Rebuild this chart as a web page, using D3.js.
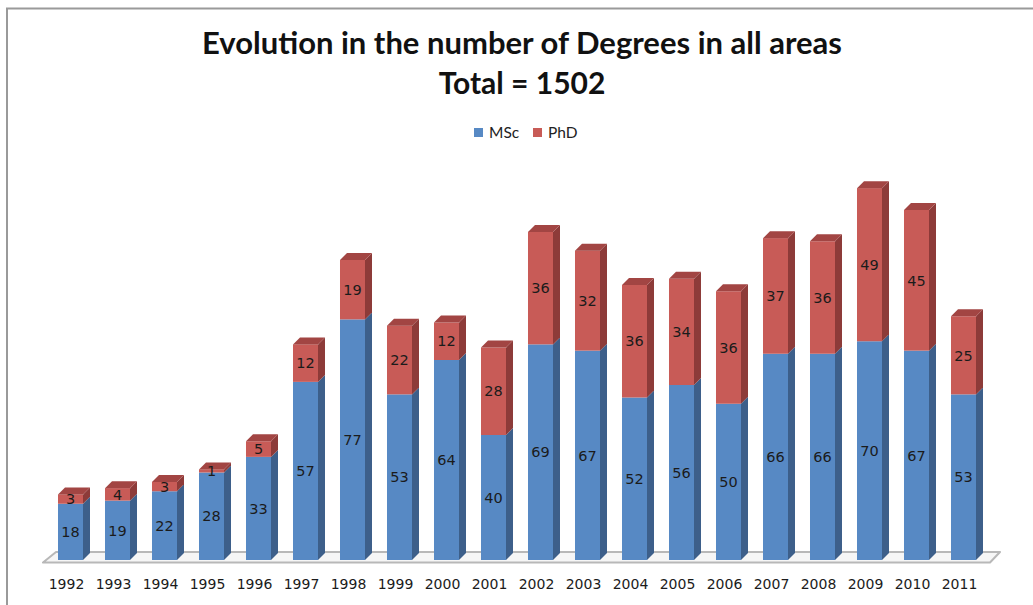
<!DOCTYPE html>
<html>
<head>
<meta charset="utf-8">
<script src="https://cdn.jsdelivr.net/npm/d3@7/dist/d3.min.js"></script>
<style>
  html, body { margin: 0; padding: 0; background: #fff; }
  svg { display: block; }
</style>
</head>
<body>
<svg id="chart" width="1033" height="605"></svg>
<script>
// Degrees awarded per year, split by level
const years = ["1992","1993","1994","1995","1996","1997","1998","1999","2000","2001",
               "2002","2003","2004","2005","2006","2007","2008","2009","2010","2011"];
const msc = [18,19,22,28,33,57,77,53,64,40,69,67,52,56,50,66,66,70,67,53];
const phd = [3,4,3,1,5,12,19,22,12,28,36,32,36,34,36,37,36,49,45,25];
const seriesNames = ["MSc","PhD"];
const titleLines = ["Evolution in the number of Degrees in all areas", "Total = 1502"];

const W = 1033, H = 605;
const svg = d3.select("#chart");

const colors = {
  MSc: { front: "#5789c4", side: "#3d5f8a", top: "#4a74a8" },
  PhD: { front: "#c85b57", side: "#8d3b39", top: "#a24543" }
};

// chart frame
svg.append("path")
  .attr("d", `M7,${H + 5} L7,8.5 L${W + 5},8.5`)
  .attr("fill", "none")
  .attr("stroke", "#9a9a9a")
  .attr("stroke-width", 2);

// scales
const x = d3.scaleBand()
  .domain(years)
  .range([47, 987])
  .paddingInner(0.468)
  .paddingOuter(0.234);

const y = d3.scaleLinear().domain([0, 120]).range([560, 185]);

const depthX = 7, depthY = 7;

// floor
const fl = { l: x.range()[0] - 4, r: x.range()[1] + 3 };
const floorFront = y(0) + 2.5, floorBack = y(0) - 8;
svg.append("path")
  .attr("d", `M${fl.l},${floorFront} L${fl.r},${floorFront} L${fl.r + 10},${floorBack} L${fl.l + 13},${floorBack} Z`)
  .attr("fill", "#f6f6f6")
  .attr("stroke", "#b8b8b8")
  .attr("stroke-width", 2)
  .attr("stroke-linejoin", "round");

// stacked 3D bars
const stackData = years.map((yr, i) => ({ year: yr, MSc: msc[i], PhD: phd[i] }));
const stacked = d3.stack().keys(seriesNames)(stackData);

const bw = x.bandwidth();
const barG = svg.append("g");

years.forEach((yr, i) => {
  const g = barG.append("g");
  const x0 = x(yr), x1 = x0 + bw;
  stacked.forEach((layer, li) => {
    const key = layer.key;
    const [v0, v1] = layer[i];
    const yb = y(v0), yt = y(v1);
    const c = colors[key];
    // side face
    g.append("path")
      .attr("d", `M${x1},${yb} L${x1 + depthX},${yb - depthY} L${x1 + depthX},${yt - depthY} L${x1},${yt} Z`)
      .attr("fill", c.side);
    // front face
    g.append("rect")
      .attr("x", x0).attr("y", yt)
      .attr("width", bw).attr("height", yb - yt)
      .attr("fill", c.front);
    // top face on the uppermost segment
    if (li === stacked.length - 1) {
      g.append("path")
        .attr("d", `M${x0},${yt} L${x0 + depthX},${yt - depthY} L${x1 + depthX},${yt - depthY} L${x1},${yt} Z`)
        .attr("fill", c.top);
    }
    // value label
    g.append("text")
      .attr("x", x0 + bw / 2)
      .attr("y", (yb + yt) / 2)
      .attr("dy", "0.36em")
      .attr("text-anchor", "middle")
      .attr("font-family", "DejaVu Sans, Verdana, sans-serif")
      .attr("font-size", 14.5)
      .attr("fill", "#1b1b1b")
      .text(v1 - v0);
  });
});

// category axis labels
const xAxis = d3.axisBottom(x).tickSize(0).tickPadding(0);
const axG = svg.append("g")
  .attr("transform", `translate(-4, ${y(0) + 19})`)
  .call(xAxis);
axG.select(".domain").remove();
axG.selectAll("text")
  .attr("font-family", "DejaVu Sans, Verdana, sans-serif")
  .attr("font-size", 14)
  .attr("fill", "#1b1b1b");

// title
const title = svg.append("g")
  .attr("font-family", "Lato, Carlito, sans-serif")
  .attr("font-weight", "bold")
  .attr("font-size", 31)
  .attr("fill", "#111")
  .attr("text-anchor", "middle");
title.append("text").attr("x", 522).attr("y", 54).text(titleLines[0]);
title.append("text").attr("x", 522).attr("y", 94).attr("font-size", 30).text(titleLines[1]);

// legend
const legend = svg.append("g")
  .attr("font-family", "Lato, Carlito, sans-serif")
  .attr("font-size", 15.5)
  .attr("fill", "#222");
const legendX = [474, 533];
seriesNames.forEach((name, i) => {
  legend.append("rect")
    .attr("x", legendX[i]).attr("y", 128)
    .attr("width", 9).attr("height", 9)
    .attr("fill", colors[name].front);
  legend.append("text")
    .attr("x", legendX[i] + 15).attr("y", 138)
    .text(name);
});
</script>
</body>
</html>
